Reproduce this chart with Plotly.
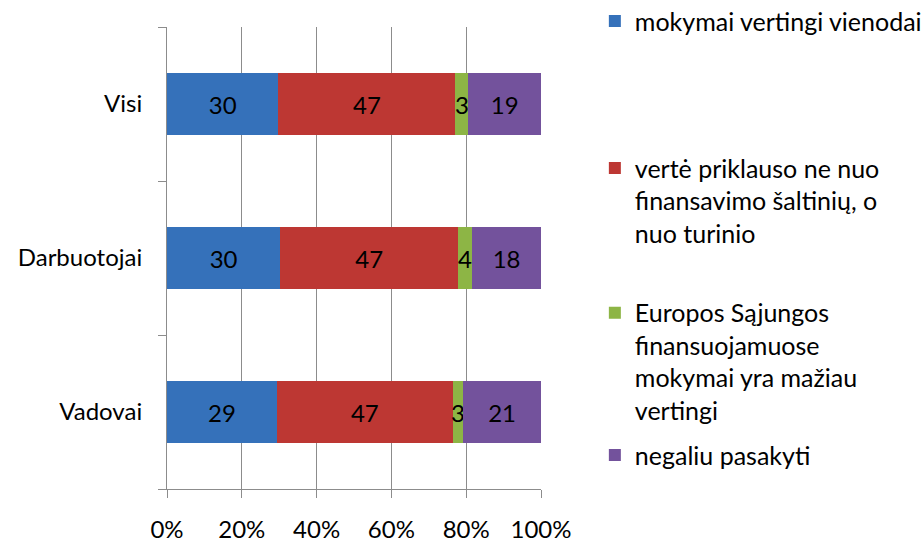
import plotly.graph_objects as go

# groups, top to bottom in the picture
groups = ["Visi", "Darbuotojai", "Vadovai"]

# shares (percent of each bar)
vienodai = [29.8, 30.3, 29.4]
turinio = [47.3, 47.5, 47.0]
es_maziau = [3.5, 3.8, 2.8]
negaliu = [19.4, 18.4, 20.8]

# data labels as printed on the bars
lbl_vienodai = [30, 30, 29]
lbl_turinio = [47, 47, 47]
lbl_es = [3, 4, 3]
lbl_negaliu = [19, 18, 21]

names = [
    "mokymai vertingi vienodai",
    "vertė priklauso ne nuo<br>finansavimo šaltinių, o<br>nuo turinio",
    "Europos Sąjungos<br>finansuojamuose<br>mokymai yra mažiau<br>vertingi",
    "negaliu pasakyti",
]
colors = ["#3571BA", "#BD3733", "#8DB545", "#73529C"]

FONT = "Lato, 'Liberation Sans', sans-serif"
FS = 24

series = [vienodai, turinio, es_maziau, negaliu]
labels = [lbl_vienodai, lbl_turinio, lbl_es, lbl_negaliu]
legends = ["legend", "legend2", "legend3", "legend4"]

fig = go.Figure()
for vals, lab, name, col, lg in zip(series, labels, names, colors, legends):
    fig.add_trace(go.Bar(
        y=groups, x=vals, orientation="h", name=name,
        marker=dict(color=col, line=dict(width=0)),
        text=[str(v) for v in lab], textposition="inside",
        insidetextanchor="middle", constraintext="none",
        textfont=dict(color="black", size=FS, family=FONT),
        legend=lg,
    ))

# each legend entry placed on its own, like the spread-out original
leg_y = [1.0625, 0.744, 0.431, 0.1227]
leg = {}
for lg, yy in zip(legends, leg_y):
    leg[lg] = dict(x=1.144, y=yy, xanchor="left", yanchor="top",
                   valign="top", bgcolor="rgba(0,0,0,0)",
                   font=dict(size=FS + 1, family=FONT, color="black"))

fig.update_layout(
    width=923, height=542,
    margin=dict(l=167, r=382, t=27, b=53, autoexpand=False),
    barmode="stack", bargap=0.6,
    plot_bgcolor="white", paper_bgcolor="white",
    font=dict(family=FONT, size=FS, color="black"),
    uniformtext=dict(minsize=FS, mode="show"),
    showlegend=True,
    **leg,
)

fig.update_xaxes(
    range=[0, 100], tickvals=[0, 20, 40, 60, 80, 100],
    ticktext=["0%", "20%", "40%", "60%", "80%", "100%"],
    showgrid=True, gridcolor="#8C8C8C", gridwidth=1,
    showline=True, linecolor="#8C8C8C", linewidth=1,
    ticks="outside", ticklen=8, tickcolor="#8C8C8C",
    ticklabelstandoff=11, zeroline=False, automargin=False,
)
fig.update_yaxes(
    categoryorder="array", categoryarray=groups[::-1],
    showline=True, linecolor="#8C8C8C", linewidth=1,
    ticks="outside", ticklen=8, tickcolor="#8C8C8C",
    tickson="boundaries", showgrid=False,
    ticklabelstandoff=19, automargin=False,
)

# drop the browser's default page margin so the figure sits at 0,0
fig.write_html("out.html",
               config={"displayModeBar": False},
               post_script="document.body.style.margin='0';"
                           "document.body.style.overflow='hidden';")
